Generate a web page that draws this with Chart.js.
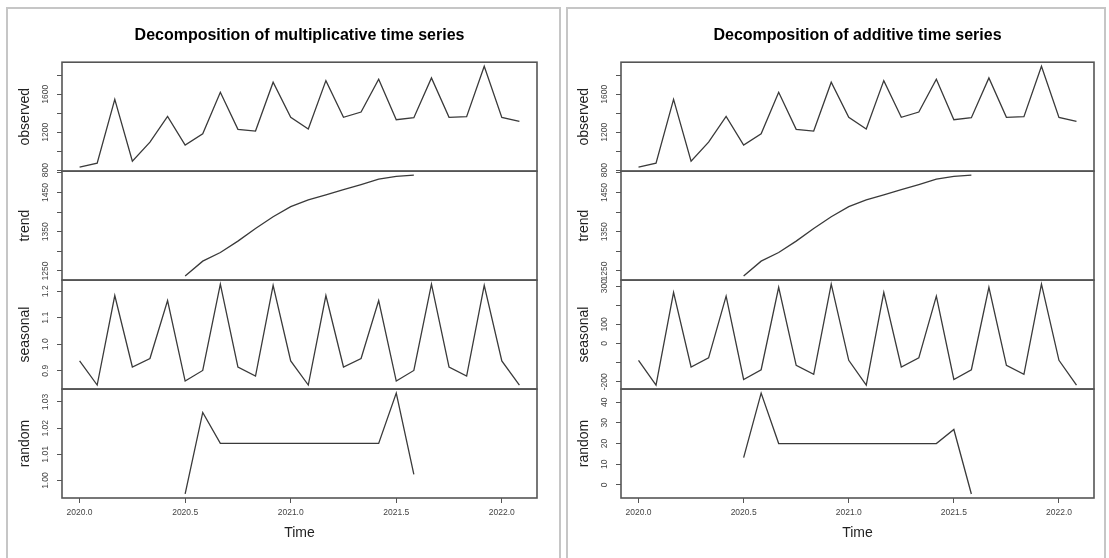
<!DOCTYPE html>
<html>
<head>
<meta charset="utf-8">
<script src="https://cdn.jsdelivr.net/npm/chart.js@4.4.0/dist/chart.umd.min.js"></script>
<style>
  html, body { margin: 0; padding: 0; background: #fff; overflow: hidden; width: 1109px; height: 558px; }
  .frame { position: absolute; border: 2px solid #c6c6c6; box-sizing: border-box; }
  canvas { position: absolute; top: 0; }
</style>
</head>
<body>
<div class="frame" style="left:6px;top:7px;width:555px;height:560px"></div>
<div class="frame" style="left:566px;top:7px;width:540px;height:560px"></div>
<canvas id="multChart" width="560" height="558" style="left:0"></canvas>
<canvas id="addChart" width="550" height="558" style="left:559px"></canvas>
<script>
// monthly time index, Jan 2020 .. Feb 2022
const timeIdx = [2020.0000, 2020.0833, 2020.1667, 2020.2500, 2020.3333, 2020.4167,
  2020.5000, 2020.5833, 2020.6667, 2020.7500, 2020.8333, 2020.9167,
  2021.0000, 2021.0833, 2021.1667, 2021.2500, 2021.3333, 2021.4167,
  2021.5000, 2021.5833, 2021.6667, 2021.7500, 2021.8333, 2021.9167,
  2022.0000, 2022.0833];

const observed = [832, 874, 1547, 895, 1096, 1367, 1064, 1184, 1621, 1230, 1212, 1727,
  1357, 1233, 1744, 1357, 1413, 1759, 1332, 1353, 1773, 1357, 1364, 1896, 1357, 1315];

const trend = [null, null, null, null, null, null,
  1237, 1275, 1297, 1326, 1358, 1388, 1414, 1431, 1444, 1457, 1470, 1484, 1491, 1494,
  null, null, null, null, null, null];

const seasonalMult = [0.937, 0.846, 1.184, 0.914, 0.946, 1.165, 0.861, 0.901, 1.227, 0.914, 0.880, 1.222,
  0.937, 0.846, 1.184, 0.914, 0.946, 1.165, 0.861, 0.901, 1.227, 0.914, 0.880, 1.222,
  0.937, 0.846];

const randomMult = [null, null, null, null, null, null,
  0.9949, 1.0260, 1.0142, 1.0142, 1.0142, 1.0142, 1.0142, 1.0142, 1.0142, 1.0142, 1.0142, 1.0142,
  1.0334, 1.0024,
  null, null, null, null, null, null];

const seasonalAdd = [-88, -217, 267, -123, -75, 247, -188, -137, 293, -114, -161, 310,
  -88, -217, 267, -123, -75, 247, -188, -137, 293, -114, -161, 310,
  -88, -217];

const randomAdd = [null, null, null, null, null, null,
  13.2, 44.4, 20.0, 20.0, 20.0, 20.0, 20.0, 20.0, 20.0, 20.0, 20.0, 20.0,
  26.8, -4.4,
  null, null, null, null, null, null];

// axis ticks (marks) and which of them carry a label
const xTicks = [2020.0, 2020.5, 2021.0, 2021.5, 2022.0];
const obsTicks = [800, 1000, 1200, 1400, 1600, 1800];
const obsLabels = [800, 1200, 1600];
const trendTicks = [1250, 1300, 1350, 1400, 1450, 1500];
const trendLabels = [1250, 1350, 1450];
const seasMultTicks = [0.9, 1.0, 1.1, 1.2];
const randMultTicks = [1.00, 1.01, 1.02, 1.03];
const seasAddTicks = [-200, -100, 0, 100, 200, 300];
const seasAddLabels = [-200, 0, 100, 300];
const randAddTicks = [0, 10, 20, 30, 40];

const FONT = '"Liberation Sans", Arial, Helvetica, sans-serif';
const TICK_SIZE = 8.5;
Chart.defaults.font.family = FONT;

// R-style 4% range extension
function extRange(vals) {
  const v = vals.filter(x => x !== null);
  const lo = Math.min(...v), hi = Math.max(...v);
  const pad = (hi - lo) * 0.04;
  return [lo - pad, hi + pad];
}
const [xMin, xMax] = extRange(timeIdx);

const measureCtx = document.createElement('canvas').getContext('2d');
function labelPad(labels, dec) {
  measureCtx.font = TICK_SIZE + 'px ' + FONT;
  const w = Math.max(...labels.map(v => measureCtx.measureText(v.toFixed(dec)).width));
  return 16.5 - 5 - w / 2;
}

function yAxis(title, vals, ticks, labels, dec, weight) {
  const [min, max] = extRange(vals);
  return {
    type: 'linear', position: 'left', stack: 'panel', stackWeight: 1, weight,
    min, max,
    afterBuildTicks: s => { s.ticks = ticks.map(v => ({ value: v })); },
    afterFit: s => { s.width = 62; },
    grid: { drawOnChartArea: false, drawTicks: true, tickLength: 5, color: '#555', lineWidth: 1 },
    border: { display: false },
    ticks: {
      autoSkip: false, minRotation: 90, maxRotation: 90, crossAlign: 'center',
      padding: labelPad(labels, dec), color: '#444', font: { size: TICK_SIZE },
      callback: v => labels.includes(v) ? v.toFixed(dec) : ''
    },
    title: { display: true, text: title, color: '#222', font: { size: 14 }, padding: { top: 16.6, bottom: 0 } }
  };
}

function series(vals, axisId) {
  return {
    data: timeIdx.map((t, i) => ({ x: t, y: vals[i] })),
    xAxisID: 'x', yAxisID: axisId,
    borderColor: '#3a3a3a', borderWidth: 1.3, pointRadius: 0, tension: 0, fill: false, spanGaps: false
  };
}

const boxPlugin = {
  id: 'panelBoxes',
  afterDatasetsDraw(chart) {
    const { ctx, chartArea } = chart;
    ctx.save();
    ctx.strokeStyle = '#555';
    ctx.lineWidth = 1.6;
    Object.values(chart.scales).forEach(s => {
      if (s.axis !== 'y') return;
      ctx.strokeRect(chartArea.left, s.top, chartArea.right - chartArea.left, s.bottom - s.top);
    });
    ctx.restore();
  }
};

function makePanel(id, title, padRight, seas, rand, seasTicks, seasLabels, seasDec, randTicks, randLabels, randDec) {
  new Chart(document.getElementById(id), {
    type: 'line',
    data: {
      datasets: [
        series(observed, 'obs'),
        series(trend, 'trend'),
        series(seas, 'seas'),
        series(rand, 'rand')
      ]
    },
    options: {
      responsive: false, animation: false, devicePixelRatio: 1,
      layout: { padding: { left: 0, right: padRight, top: 0, bottom: 0 } },
      plugins: {
        legend: { display: false },
        tooltip: { enabled: false },
        title: {
          display: true, fullSize: false, text: title, color: '#000',
          font: { size: 16, weight: 'bold' }, padding: { top: 26, bottom: 17 }
        }
      },
      scales: {
        x: {
          type: 'linear', position: 'bottom', min: xMin, max: xMax,
          afterBuildTicks: s => { s.ticks = xTicks.map(v => ({ value: v })); },
          afterFit: s => { s.height = 60; },
          grid: { drawOnChartArea: false, drawTicks: true, tickLength: 5, color: '#555' },
          border: { display: false },
          ticks: { autoSkip: false, maxRotation: 0, padding: 5, color: '#444', font: { size: TICK_SIZE }, callback: v => v.toFixed(1) },
          title: { display: true, text: 'Time', color: '#222', font: { size: 14 }, padding: { top: 0, bottom: 16.6 } }
        },
        obs: yAxis('observed', observed, obsTicks, obsLabels, 0, 4),
        trend: yAxis('trend', trend, trendTicks, trendLabels, 0, 3),
        seas: yAxis('seasonal', seas, seasTicks, seasLabels, seasDec, 2),
        rand: yAxis('random', rand, randTicks, randLabels, randDec, 1)
      }
    },
    plugins: [boxPlugin]
  });
}

makePanel('multChart', 'Decomposition of multiplicative time series', 23,
  seasonalMult, randomMult, seasMultTicks, seasMultTicks, 1, randMultTicks, randMultTicks, 2);
makePanel('addChart', 'Decomposition of additive time series', 15,
  seasonalAdd, randomAdd, seasAddTicks, seasAddLabels, 0, randAddTicks, randAddTicks, 0);
</script>
</body>
</html>
